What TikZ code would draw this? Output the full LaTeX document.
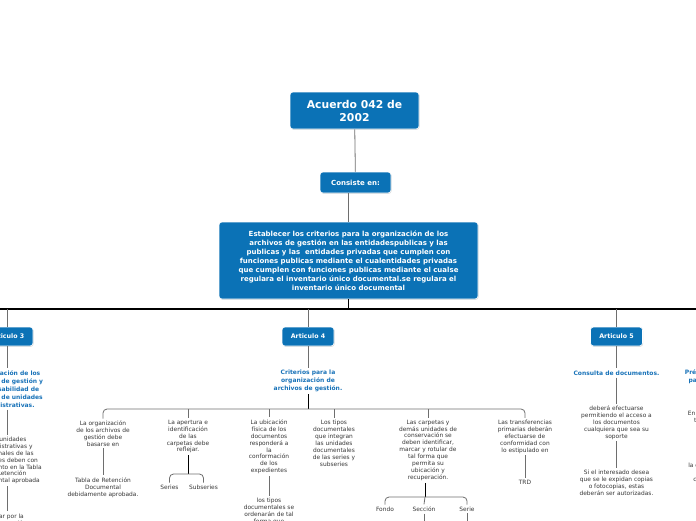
\documentclass[tikz,border=0pt]{standalone}
\usepackage{fontspec}
\setmainfont{DejaVu Sans}
\usetikzlibrary{shadows}
\definecolor{mapblue}{RGB}{11,114,182}
\definecolor{headblue}{RGB}{24,114,184}
\definecolor{notegray}{RGB}{55,55,55}
\definecolor{linkgray}{RGB}{110,110,110}

\begin{document}
\begin{tikzpicture}[x=1pt,y=-1pt,
    topic/.style={draw=white,line width=0.6pt,fill=mapblue,rounded corners=3pt,text=white,align=center,inner sep=2pt,
        drop shadow={opacity=0.3,shadow xshift=0.6pt,shadow yshift=-0.8pt}},
    artbox/.style={topic,font=\fontsize{6.3}{8}\selectfont\bfseries,minimum width=52pt,minimum height=19pt},
    head/.style={text=headblue,font=\fontsize{6}{8}\selectfont\bfseries,align=center,inner sep=2pt},
    note/.style={text=notegray,font=\fontsize{5.9}{6.9}\selectfont,align=center,inner sep=2pt},
    link/.style={draw=linkgray,line width=0.8pt},
    stem/.style={draw=black,line width=1pt}]
            \useasboundingbox (0,0) rectangle (696,520);
            \clip (0,0) rectangle (696,520);

            \node[topic,font=\fontsize{10.8}{13}\selectfont\bfseries,minimum width=129pt,minimum height=37pt] (acuerdo) at (354.5,110.5) {Acuerdo 042 de\\2002};
            \node[topic,font=\fontsize{7}{8}\selectfont\bfseries,minimum width=71pt,minimum height=21pt] (consiste) at (355.5,182.5) {Consiste en:};
            \node[topic,font=\fontsize{7}{9}\selectfont\bfseries,minimum width=259pt,minimum height=77pt] (objeto) at (348.5,260.5) {Establecer los criterios para la organización de los\\archivos de gestión en las entidadespublicas y las\\publicas y las\ \ entidades privadas que cumplen con\\funciones publicas mediante el cualentidades privadas\\que cumplen con funciones publicas mediante el cualse\\regulara el inventario único documental.se regulara el\\inventario único documental};

            \path [link] (acuerdo) edge (consiste);
            \path [link] (consiste.south -| objeto.north) edge (objeto.north);

            % articulos
            \coordinate (busW) at (-200,309);
            \coordinate (busE) at (900,309);
            \node[artbox] (art3) at (7,336.5) {Articulo 3};
            \node[artbox] (art4) at (308,336.5) {Articulo 4};
            \node[artbox] (art5) at (616.5,336.5) {Articulo 5};

            \draw[stem,line width=1.3pt] (objeto.south) -- (objeto.south |- busW);
            \draw[stem,line width=1.3pt] (busW) -- (busE);
            \path [link] (art3.north |- busW) edge (art3.north);
            \path [link] (art4.north |- busW) edge (art4.north);
            \path [link] (art5.north |- busW) edge (art5.north);

            % articulo 3
            \node[head] (org3) at (7,389) {Organización de los\\archivos de gestión y\\responsabilidad de\\los jefes de unidades\\administrativas.};
            \node[note] (unid3) at (7,460.5) {Las unidades\\administrativas y\\funcionales de las\\entidades deben con\\fundamento en la Tabla\\de Retención\\Documental aprobada};
            \node[note] (velar3) at (7,519.4) {Velar por la\\conservación};
            \path [link] (art3) edge (org3);
            \path [link] (org3) edge (unid3);
            \path [link] (unid3) edge (velar3);

            % articulo 4
            \node[head] (crit4) at (308,381) {Criterios para la\\organización de\\archivos de gestión.};
            \path [link] (art4) edge (crit4);
            \coordinate (kbus) at (308,409);
            \draw[stem] (crit4.south) -- (kbus);

            \node[note] (k1) at (103,433.5) {La organización\\de los archivos de\\gestión debe\\basarse en};
            \node[note] (k1b) at (103,487.5) {Tabla de Retención\\Documental\\debidamente aprobada.};
            \node[note] (k2) at (188,436.6) {La apertura e\\identificación\\de las\\carpetas debe\\reflejar.};
            \node[note] (series) at (169.5,487) {Series};
            \node[note] (subseries) at (203.5,487) {Subseries};
            \node[note] (k3) at (269,446.8) {La ubicación\\física de los\\documentos\\responderá a\\la\\conformación\\de los\\expedientes};
            \node[note] (k3b) at (269,511.2) {los tipos\\documentales se\\ordenarán de tal\\forma que};
            \node[note] (k4) at (334,443.4) {Los tipos\\documentales\\que integran\\las unidades\\documentales\\de las series y\\subseries};
            \node[note] (k5) at (428,450.2) {Las carpetas y\\demás unidades de\\conservación se\\deben identificar,\\marcar y rotular de\\tal forma que\\permita su\\ubicación y\\recuperación.};
            \node[note] (fondo) at (385,509) {Fondo};
            \node[note] (seccion) at (424,509) {Sección};
            \node[note] (serie) at (467,509) {Serie};
            \node[note] (k6) at (525,436.6) {Las transferencias\\primarias deberán\\efectuarse de\\conformidad con\\lo estipulado en};
            \node[note] (trd) at (525,482) {TRD};

            \draw[link,rounded corners=4] (k1.north) -- (k1.north |- kbus) -- (k6.north |- kbus) -- (k6.north);
            \path [link] (k2.north |- kbus) edge (k2.north);
            \path [link] (k3.north |- kbus) edge (k3.north);
            \path [link] (k4.north |- kbus) edge (k4.north);
            \path [link] (k5.north |- kbus) edge (k5.north);

            \path [link] (k1) edge (k1b);
            \path [link] (k3) edge (k3b);
            \path [link] (k6) edge (trd);

            \coordinate (br2) at (188,474);
            \draw[stem] (k2.south) -- (br2);
            \draw[link,rounded corners=4] (series.north) -- (series.north |- br2) -- (subseries.north |- br2) -- (subseries.north);

            \coordinate (br5) at (425,497);
            \draw[stem] (k5.south -| br5) -- (br5);
            \draw[link,rounded corners=4] (fondo.north) -- (fondo.north |- br5) -- (serie.north |- br5) -- (serie.north);
            \path [link] (br5) edge (seccion.north);
            \coordinate (seccionSub) at (424,540);
            \coordinate (serieSub) at (467,540);
            \path [link] (seccion) edge (seccionSub);
            \path [link] (serie) edge (serieSub);

            % articulo 5
            \node[head] (cons5) at (616.5,373) {Consulta de documentos.};
            \node[note] (deb5) at (616.5,422.5) {deberá efectuarse\\permitiendo el acceso a\\los documentos\\cualquiera que sea su\\soporte};
            \node[note] (copia5) at (616.5,482.5) {Si el interesado desea\\que se le expidan copias\\o fotocopias, estas\\deberán ser autorizadas.};
            \path [link] (art5) edge (cons5);
            \path [link] (cons5) edge (deb5);
            \path [link] (deb5) edge (copia5);

            % siguiente articulo
            \node[head] (prest6) at (728,377) {Préstamo de documentos\\para trámites internos.};
            \node[note] (even6) at (726,420) {En el evento de préstamo\\trámite interno de los\\documentos, la};
            \node[note] (dep6) at (728,473) {la dependencia productora\\llevará el registro\\con su respectiva firma};
            \path [link] (prest6) edge (even6);
            \path [link] (even6) edge (dep6);
        \end{tikzpicture}
\end{document}
